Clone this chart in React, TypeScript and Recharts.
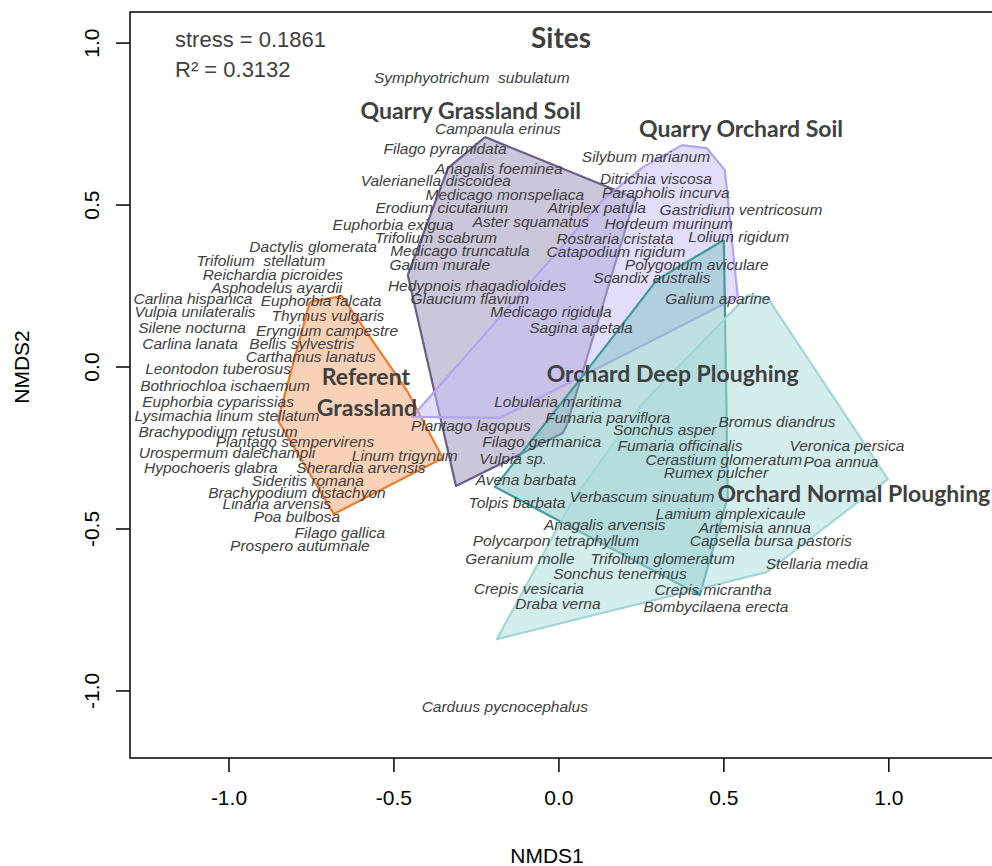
import React from 'react';
import { ScatterChart, Scatter, XAxis, YAxis, ReferenceArea } from 'recharts';

// NMDS species scores (label positions)
const speciesNames = [
  'Symphyotrichum  subulatum', 'Campanula erinus', 'Filago pyramidata', 'Anagalis foeminea',
  'Valerianella discoidea', 'Medicago monspeliaca', 'Erodium cicutarium', 'Atriplex patula',
  'Euphorbia exigua', 'Aster squamatus', 'Trifolium scabrum', 'Rostraria cristata',
  'Dactylis glomerata', 'Medicago truncatula', 'Catapodium rigidum', 'Trifolium  stellatum',
  'Galium murale', 'Reichardia picroides', 'Polygonum aviculare', 'Asphodelus ayardii',
  'Scandix australis', 'Hedypnois rhagadioloides', 'Carlina hispanica', 'Euphorbia falcata',
  'Glaucium flavium', 'Galium aparine', 'Vulpia unilateralis', 'Thymus vulgaris',
  'Medicago rigidula', 'Silene nocturna', 'Eryngium campestre', 'Sagina apetala',
  'Carlina lanata', 'Bellis sylvestris', 'Carthamus lanatus', 'Leontodon tuberosus',
  'Bothriochloa ischaemum', 'Euphorbia cyparissias', 'Lysimachia linum stellatum', 'Brachypodium retusum',
  'Plantago sempervirens', 'Urospermum dalechampii', 'Linum trigynum', 'Hypochoeris glabra',
  'Sherardia arvensis', 'Sideritis romana', 'Brachypodium distachyon', 'Linaria arvensis',
  'Poa bulbosa', 'Filago gallica', 'Prospero autumnale', 'Silybum marianum',
  'Ditrichia viscosa', 'Parapholis incurva', 'Gastridium ventricosum', 'Hordeum murinum',
  'Lolium rigidum', 'Lobularia maritima', 'Plantago lagopus', 'Fumaria parviflora',
  'Sonchus asper', 'Bromus diandrus', 'Filago germanica', 'Fumaria officinalis',
  'Veronica persica', 'Cerastium glomeratum', 'Poa annua', 'Rumex pulcher',
  'Vulpia sp.', 'Avena barbata', 'Verbascum sinuatum', 'Tolpis barbata',
  'Lamium amplexicaule', 'Artemisia annua', 'Anagalis arvensis', 'Polycarpon tetraphyllum',
  'Capsella bursa pastoris', 'Geranium molle', 'Trifolium glomeratum', 'Stellaria media',
  'Sonchus tenerrinus', 'Crepis vesicaria', 'Crepis micrantha', 'Draba verna',
  'Bombycilaena erecta', 'Carduus pycnocephalus',
];

const speciesX = [
  -0.264, -0.185, -0.345, -0.182, -0.373, -0.164, -0.355, 0.115,
  -0.503, -0.085, -0.373, 0.170, -0.745, -0.300, 0.173, -0.903,
  -0.361, -0.867, 0.418, -0.855, 0.282, -0.248, -1.109, -0.721,
  -0.270, 0.482, -1.103, -0.700, -0.024, -1.112, -0.703, 0.067,
  -1.118, -0.779, -0.752, -1.033, -1.012, -1.033, -1.006, -1.033,
  -0.800, -1.006, -0.467, -1.055, -0.600, -0.761, -0.794, -0.855,
  -0.794, -0.664, -0.785, 0.264, 0.294, 0.324, 0.552, 0.333,
  0.545, -0.003, -0.267, 0.148, 0.321, 0.661, -0.052, 0.367,
  0.873, 0.500, 0.855, 0.476, -0.139, -0.100, 0.252, -0.127,
  0.521, 0.594, 0.139, -0.009, 0.642, -0.118, 0.315, 0.782,
  0.185, -0.091, 0.467, -0.003, 0.476, -0.164,
];

const speciesY = [
  0.895, 0.735, 0.676, 0.614, 0.577, 0.534, 0.491, 0.491,
  0.441, 0.448, 0.401, 0.398, 0.373, 0.361, 0.358, 0.330,
  0.315, 0.287, 0.318, 0.244, 0.275, 0.253, 0.210, 0.204,
  0.210, 0.210, 0.170, 0.160, 0.170, 0.123, 0.114, 0.123,
  0.074, 0.074, 0.031, -0.006, -0.056, -0.105, -0.151, -0.198,
  -0.231, -0.265, -0.272, -0.309, -0.309, -0.349, -0.386, -0.420,
  -0.463, -0.512, -0.552, 0.651, 0.583, 0.540, 0.485, 0.444,
  0.404, -0.105, -0.182, -0.157, -0.194, -0.167, -0.231, -0.241,
  -0.241, -0.284, -0.293, -0.327, -0.281, -0.346, -0.401, -0.417,
  -0.451, -0.494, -0.485, -0.537, -0.537, -0.590, -0.590, -0.608,
  -0.636, -0.685, -0.688, -0.731, -0.738, -1.049,
];

// site group labels
const groupNames = [
  'Quarry Grassland Soil', 'Quarry Orchard Soil', 'Referent', 'Grassland',
  'Orchard Deep Ploughing', 'Orchard Normal Ploughing',
];
const groupX = [-0.267, 0.552, -0.585, -0.582, 0.345, 0.894];
const groupY = [0.793, 0.738, -0.028, -0.123, -0.019, -0.389];

// convex hulls of the site scores
const referentHull = [
  [-0.755, 0.201], [-0.658, 0.219], [-0.458, -0.077], [-0.352, -0.281], [-0.682, -0.454], [-0.852, -0.164],
];
const quarryGrasslandHull = [
  [-0.224, 0.710], [0.230, 0.522], [0.024, -0.179], [0.012, -0.204], [-0.312, -0.367], [-0.458, 0.284], [-0.336, 0.614],
];
const quarryOrchardHull = [
  [0.373, 0.685], [0.448, 0.676], [0.503, 0.608], [0.542, 0.216], [-0.179, -0.157], [-0.445, -0.154], [0.133, 0.515], [0.255, 0.617],
];
const deepHull = [
  [0.500, 0.392], [0.512, -0.401], [0.427, -0.704], [-0.194, -0.370], [0.058, -0.046], [0.297, 0.269],
];
const normalHull = [
  [0.573, 0.222], [0.633, 0.213], [0.997, -0.346], [0.630, -0.633], [-0.188, -0.840], [0.042, -0.410], [0.255, -0.111],
];

const xDomain = [-1.3, 1.34];
const yDomain = [-1.207, 1.096];
const axisTicks = [-1, -0.5, 0, 0.5, 1];

const species = speciesNames.map((name, i) => ({ name, x: speciesX[i], y: speciesY[i] }));
const groups = groupNames.map((name, i) => ({ name, x: groupX[i], y: groupY[i] }));
const ring = (pts: number[][]) => [...pts, pts[0]].map(([x, y]) => ({ x, y }));

const hulls = [
  { key: 'ref', data: ring(referentHull), fill: '#f4a36f', stroke: '#ef7b2d' },
  { key: 'qgs', data: ring(quarryGrasslandHull), fill: '#978db3', stroke: '#6c5d8d' },
  { key: 'qos', data: ring(quarryOrchardHull), fill: '#c6bcf8', stroke: '#b3a4f3' },
  { key: 'odp', data: ring(deepHull), fill: '#80c2c4', stroke: '#3d9c9c' },
  { key: 'onp', data: ring(normalHull), fill: '#a9dbdb', stroke: '#a3d7d7' },
];

const textColor = '#404040';
const axisFont = "'Liberation Sans Narrow', 'Liberation Sans', Arial, sans-serif";

const Nothing = () => <g />;

const SpeciesLabel = (props: any) => (
  <text
    x={props.cx}
    y={props.cy}
    textAnchor="middle"
    dominantBaseline="central"
    fontFamily="'Liberation Sans', Arial, sans-serif"
    fontStyle="italic"
    fontSize={15.5}
    fill={textColor}
    style={{ whiteSpace: 'pre' }}
  >
    {props.payload?.name ?? props.name}
  </text>
);

const GroupLabel = (props: any) => (
  <text
    x={props.cx}
    y={props.cy}
    textAnchor="middle"
    dominantBaseline="central"
    fontFamily="Lato, 'Open Sans', sans-serif"
    fontWeight={700}
    fontSize={23}
    fill={textColor}
  >
    {props.payload?.name ?? props.name}
  </text>
);

const XTick = (props: any) => (
  <text x={props.x} y={props.y + 33} textAnchor="middle" fontFamily={axisFont} fontSize={21} fill="#000">
    {Number(props.payload.value).toFixed(1)}
  </text>
);

const YTick = (props: any) => {
  const bx = props.x - 17;
  return (
    <text
      x={bx}
      y={props.y}
      transform={`rotate(-90 ${bx} ${props.y})`}
      textAnchor="middle"
      fontFamily={axisFont}
      fontSize={21}
      fill="#000"
    >
      {Number(props.payload.value).toFixed(1)}
    </text>
  );
};

export default function App() {
  return (
    <div
      style={{
        position: 'absolute',
        left: 0,
        top: 0,
        width: 992,
        height: 866,
        overflow: 'hidden',
        background: '#fff',
      }}
    >
      <ScatterChart width={1100} height={866} margin={{ top: 12, right: 99, bottom: 48, left: 70 }}>
        <XAxis
          type="number"
          dataKey="x"
          domain={xDomain}
          ticks={axisTicks}
          allowDataOverflow
          height={60}
          axisLine={false}
          tickSize={14}
          tickMargin={0}
          tickLine={{ stroke: '#000', strokeWidth: 1.5 }}
          tick={<XTick />}
        />
        <YAxis
          type="number"
          dataKey="y"
          domain={yDomain}
          ticks={axisTicks}
          allowDataOverflow
          width={60}
          axisLine={false}
          tickSize={14}
          tickMargin={0}
          tickLine={{ stroke: '#000', strokeWidth: 1.5 }}
          tick={<YTick />}
        />
        <ReferenceArea
          x1={xDomain[0]}
          x2={xDomain[1]}
          y1={yDomain[0]}
          y2={yDomain[1]}
          fill="none"
          fillOpacity={0}
          stroke="#000"
          strokeWidth={1.5}
        />
        {hulls.map((h) => (
          <Scatter
            key={h.key}
            data={h.data}
            shape={<Nothing />}
            line={{ fill: h.fill, fillOpacity: 0.5, stroke: h.stroke, strokeWidth: 2.2, strokeLinejoin: 'round' }}
            lineType="joint"
            lineJointType="linear"
            isAnimationActive={false}
          />
        ))}
        <Scatter data={species} shape={<SpeciesLabel />} isAnimationActive={false} />
        <Scatter data={groups} shape={<GroupLabel />} isAnimationActive={false} />
      </ScatterChart>
      <svg width={992} height={866} style={{ position: 'absolute', left: 0, top: 0, pointerEvents: 'none' }}>
        <text x={175} y={47} fontFamily="'Liberation Sans', Arial, sans-serif" fontSize={22} fill={textColor}>
          stress = 0.1861
        </text>
        <text x={175} y={77} fontFamily="'Liberation Sans', Arial, sans-serif" fontSize={22} fill={textColor}>
          R² = 0.3132
        </text>
        <text
          x={561}
          y={37}
          textAnchor="middle"
          dominantBaseline="central"
          fontFamily="Lato, 'Open Sans', sans-serif"
          fontWeight={700}
          fontSize={28}
          fill={textColor}
        >
          Sites
        </text>
        <text x={547} y={863} textAnchor="middle" fontFamily="'Liberation Sans', Arial, sans-serif" fontSize={21} fill="#000">
          NMDS1
        </text>
        <text
          x={29}
          y={367}
          transform="rotate(-90 29 367)"
          textAnchor="middle"
          fontFamily="'Liberation Sans', Arial, sans-serif"
          fontSize={21}
          fill="#000"
        >
          NMDS2
        </text>
      </svg>
    </div>
  );
}
